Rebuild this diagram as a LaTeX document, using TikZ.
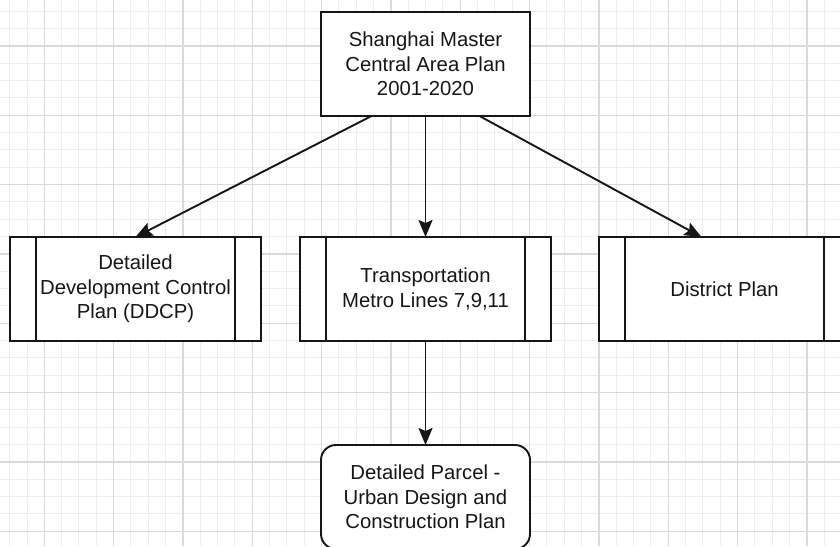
\documentclass[tikz,border=0pt]{standalone}
\usepackage{fontspec}
\setmainfont{Liberation Sans}
\usetikzlibrary{arrows.meta}
\definecolor{gridminor}{HTML}{EDEDED}
\definecolor{gridmajor}{HTML}{DADADA}
\definecolor{ink}{HTML}{161616}
\tikzset{
  basebox/.style={draw=ink, line width=1.9pt, fill=white, outer sep=0pt, inner sep=0pt,
    align=center, text=ink, font=\fontsize{20.3}{24.5}\selectfont},
  plainbox/.style={basebox, minimum width=209pt, minimum height=104pt},
  procbox/.style={basebox, minimum width=251pt, minimum height=104pt},
  roundbox/.style={basebox, rounded corners=15pt, minimum width=209pt, minimum height=104pt},
  procbar/.style={draw=ink, line width=1.9pt},
  flow/.style={draw=ink, line width=1.9pt, -{Stealth[length=17pt,width=14pt,inset=3pt]}},
  minorline/.style={draw=gridminor, line width=1pt},
  majorline/.style={draw=gridmajor, line width=1.2pt}
}
\begin{document}
\begin{tikzpicture}[x=1pt,y=-1pt]
\useasboundingbox (0,0) rectangle (840,546);
\clip (0,0) rectangle (840,546);
\fill[white] (0,0) rectangle (840,546);
% background grid
\foreach \i in {-3,...,46} {
  \draw[minorline] ({44.33+17.33*\i},0) -- ({44.33+17.33*\i},546);
}
\foreach \j in {-3,...,29} {
  \draw[minorline] (0,{46+17.33*\j}) -- (840,{46+17.33*\j});
}
\foreach \i in {-1,...,12} {
  \draw[majorline] ({44.33+69.33*\i},0) -- ({44.33+69.33*\i},546);
}
\foreach \j in {-1,...,8} {
  \draw[majorline] (0,{46+69.33*\j}) -- (840,{46+69.33*\j});
}
% boxes
\node[plainbox] (master) at (425.5,64) {Shanghai Master\\Central Area Plan\\2001-2020};
\node[procbox] (ddcp) at (135.5,289) {Detailed\\Development Control\\Plan (DDCP)};
\node[procbox] (metro) at (425.5,289) {Transportation\\Metro Lines 7,9,11};
\node[procbox] (district) at (724.5,289) {District Plan};
\node[roundbox] (parcel) at (425.5,497) {Detailed Parcel -\\Urban Design and\\Construction Plan};
% side bars of the process boxes
\foreach \n in {ddcp,metro,district} {
  \draw[procbar] ([xshift=26pt]\n.north west) -- ([xshift=26pt]\n.south west);
  \draw[procbar] ([xshift=-26pt]\n.north east) -- ([xshift=-26pt]\n.south east);
}
% connectors
\draw[flow] ([xshift=-54pt]master.south) -- (ddcp.north);
\draw[flow] (master.south) -- (metro.north);
\draw[flow] ([xshift=54pt]master.south) -- ([xshift=-23pt]district.north);
\draw[flow] (metro.south) -- (parcel.north);
\end{tikzpicture}
\end{document}
